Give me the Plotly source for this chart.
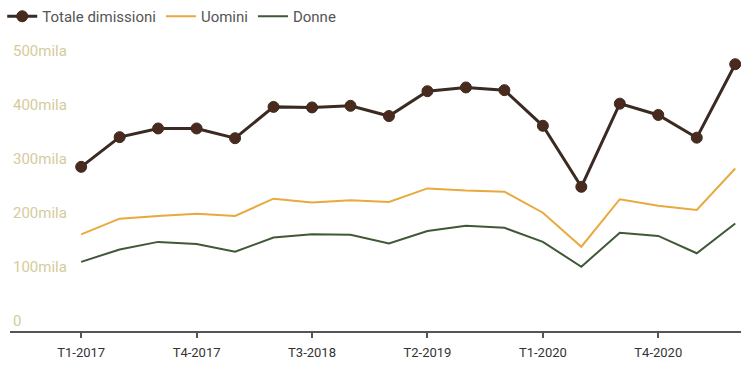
import plotly.graph_objects as go

# Quarterly resignations in Italy, thousands of people
quarters = [
    "T1-2017", "T2-2017", "T3-2017", "T4-2017",
    "T1-2018", "T2-2018", "T3-2018", "T4-2018",
    "T1-2019", "T2-2019", "T3-2019", "T4-2019",
    "T1-2020", "T2-2020", "T3-2020", "T4-2020",
    "T1-2021", "T2-2021",
]
totale = [304, 359, 375, 375, 357, 415, 414, 417, 398, 444, 451, 446, 380, 267, 421, 400, 358, 494]
uomini = [179, 208, 213, 217, 213, 245, 238, 242, 239, 264, 260, 258, 219, 156, 244, 232, 224, 301]
donne = [128, 151, 165, 161, 147, 173, 179, 178, 162, 185, 195, 191, 165, 119, 182, 176, 144, 199]

x_ticks = ["T1-2017", "T4-2017", "T3-2018", "T2-2019", "T1-2020", "T4-2020"]
y_ticks = [0, 100, 200, 300, 400, 500]
y_tick_text = ["0", "100mila", "200mila", "300mila", "400mila", "500mila"]

FONT = "Roboto, 'Open Sans', sans-serif"

fig = go.Figure()
fig.add_trace(go.Scatter(
    x=quarters, y=totale, name="Totale dimissioni", mode="lines+markers",
    line=dict(color="#3a2a22", width=3),
    marker=dict(size=11, color="#4b2a1e", line=dict(color="#3a2a22", width=1)),
))
fig.add_trace(go.Scatter(
    x=quarters, y=uomini, name="Uomini", mode="lines",
    line=dict(color="#e9a93c", width=2),
))
fig.add_trace(go.Scatter(
    x=quarters, y=donne, name="Donne", mode="lines",
    line=dict(color="#3f5837", width=2),
))

fig.update_layout(
    width=741, height=369,
    margin=dict(l=10, r=0, t=39, b=38),
    paper_bgcolor="white", plot_bgcolor="white",
    font=dict(family=FONT, color="#444"),
    showlegend=True,
    legend=dict(
        orientation="h", x=0.003, y=1, xref="container", yref="container",
        xanchor="left", yanchor="top",
        font=dict(size=15, color="#555"), itemwidth=30,
        bgcolor="rgba(0,0,0,0)",
    ),
    xaxis=dict(
        type="category", categoryorder="array", categoryarray=quarters,
        range=[-1.85, 17.15],
        tickmode="array", tickvals=x_ticks, ticktext=x_ticks,
        showgrid=False, zeroline=False,
        showline=True, linecolor="#555", linewidth=1.5,
        ticks="outside", ticklen=5, tickcolor="#555", tickwidth=1.5,
        ticklabelstandoff=4,
        tickfont=dict(size=13, color="#333"),
    ),
    yaxis=dict(
        range=[0, 540.7],
        tickmode="array", tickvals=y_ticks, ticktext=y_tick_text,
        showgrid=False, zeroline=False, showline=False,
        ticks="", ticklabelposition="inside top",
        tickfont=dict(size=15, color="#d5cb9c"),
    ),
)

fig.write_html("out.html")
